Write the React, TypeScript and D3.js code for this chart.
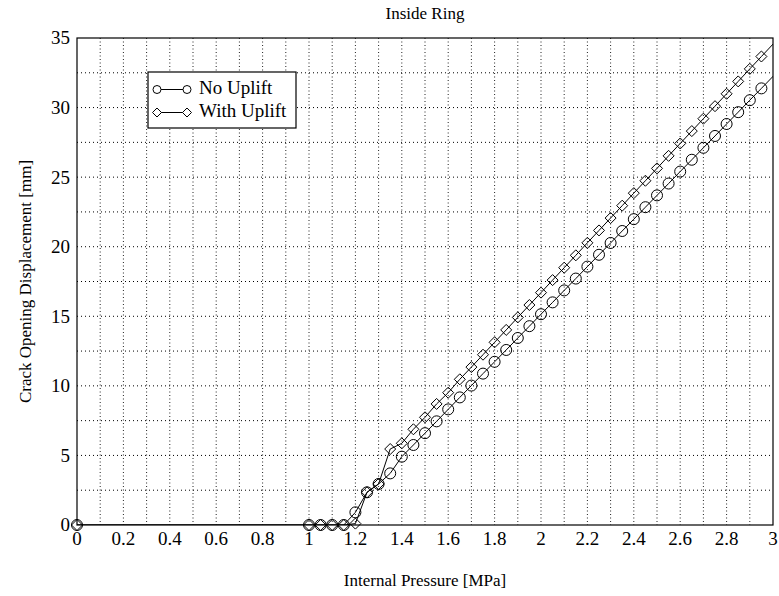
import React, { useEffect, useRef } from 'react';
import * as d3 from 'd3';

// internal pressure [MPa]; last point lies past the axis and is clipped
const pressure = [
  0,
  1.0, 1.05, 1.1, 1.15, 1.2, 1.25, 1.3, 1.35, 1.4, 1.45,
  1.5, 1.55, 1.6, 1.65, 1.7, 1.75, 1.8, 1.85, 1.9, 1.95,
  2.0, 2.05, 2.1, 2.15, 2.2, 2.25, 2.3, 2.35, 2.4, 2.45,
  2.5, 2.55, 2.6, 2.65, 2.7, 2.75, 2.8, 2.85, 2.9, 2.95,
  3.05,
];

// crack opening displacement [mm]
const codNoUplift = [
  0,
  0, 0, 0, 0, 0.91, 2.35, 2.95, 3.71, 4.91, 5.75,
  6.6, 7.45, 8.31, 9.17, 10.02, 10.88, 11.73, 12.58, 13.44, 14.29,
  15.15, 16.0, 16.86, 17.71, 18.57, 19.42, 20.27, 21.13, 21.98, 22.84,
  23.69, 24.54, 25.4, 26.25, 27.11, 27.96, 28.82, 29.67, 30.53, 31.38,
  33.1,
];

const codWithUplift = [
  0,
  0, 0, 0, 0, 0.1, 2.35, 2.95, 5.46, 5.87, 6.88,
  7.74, 8.7, 9.51, 10.47, 11.35, 12.24, 13.13, 14.02, 14.92, 15.81,
  16.7, 17.6, 18.49, 19.38, 20.28, 21.17, 22.06, 22.95, 23.85, 24.74,
  25.63, 26.53, 27.42, 28.31, 29.2, 30.1, 30.99, 31.88, 32.78, 33.67,
  35.45,
];

const seriesNames = ['No Uplift', 'With Uplift'];
const xTicks = [0, 0.2, 0.4, 0.6, 0.8, 1, 1.2, 1.4, 1.6, 1.8, 2, 2.2, 2.4, 2.6, 2.8, 3];
const yTicks = [0, 5, 10, 15, 20, 25, 30, 35];

const W = 779;
const H = 596;
const FONT = '"Liberation Serif", "Times New Roman", serif';

const App = () => {
  const svgRef = useRef<SVGSVGElement | null>(null);

  useEffect(() => {
    if (!svgRef.current) return;
    const root = d3.select(svgRef.current);
    root.selectAll('*').remove();

    const margin = { top: 38, right: 6, bottom: 71, left: 77 };
    const width = W - margin.left - margin.right;
    const height = H - margin.top - margin.bottom;

    const x = d3.scaleLinear().domain([0, 3]).range([0, width]);
    const y = d3.scaleLinear().domain([0, 35]).range([height, 0]);

    root.append('defs').append('clipPath').attr('id', 'plot-clip')
      .append('rect').attr('width', width).attr('height', height);

    const svg = root.append('g')
      .attr('transform', `translate(${margin.left},${margin.top})`);

    // grid
    const grid = svg.append('g');
    grid.selectAll('line.vx')
      .data(d3.range(1, 30).map(i => i / 10))
      .enter().append('line')
      .attr('x1', d => x(d)).attr('x2', d => x(d))
      .attr('y1', 0).attr('y2', height)
      .attr('stroke', '#222')
      .attr('stroke-width', 1)
      .attr('stroke-dasharray', '1,2.5');
    grid.selectAll('line.hy')
      .data(d3.range(1, 14).map(i => i * 2.5))
      .enter().append('line')
      .attr('x1', 0).attr('x2', width)
      .attr('y1', d => y(d)).attr('y2', d => y(d))
      .attr('stroke', '#000')
      .attr('stroke-width', 1)
      .attr('stroke-dasharray', '1,3');

    // frame
    svg.append('rect')
      .attr('width', width).attr('height', height)
      .attr('fill', 'none').attr('stroke', '#000').attr('stroke-width', 1.2);

    // tick labels
    svg.selectAll('text.xt')
      .data(xTicks)
      .enter().append('text')
      .attr('x', d => x(d))
      .attr('y', height + 20)
      .attr('text-anchor', 'middle')
      .style('font-family', FONT)
      .style('font-size', '19px')
      .text(d => String(d));

    svg.selectAll('text.yt')
      .data(yTicks)
      .enter().append('text')
      .attr('x', -7)
      .attr('y', d => y(d))
      .attr('dy', '0.34em')
      .attr('text-anchor', 'end')
      .style('font-family', FONT)
      .style('font-size', '19px')
      .text(d => String(d));

    const data = [codNoUplift, codWithUplift].map(vals =>
      pressure.map((p, i) => ({ p, v: vals[i] })));

    const line = d3.line<{ p: number; v: number }>()
      .x(d => x(d.p))
      .y(d => y(d.v));

    const plot = svg.append('g');
    const lines = plot.append('g').attr('clip-path', 'url(#plot-clip)');
    data.forEach(series => {
      lines.append('path')
        .datum(series)
        .attr('fill', 'none')
        .attr('stroke', '#000')
        .attr('stroke-width', 1)
        .attr('d', line);
    });

    const diamond = (r: number) => `M0,${-r}L${r},0L0,${r}L${-r},0Z`;

    // markers (only those inside the x range)
    plot.selectAll('circle.m')
      .data(data[0].filter(d => d.p <= 3))
      .enter().append('circle')
      .attr('cx', d => x(d.p))
      .attr('cy', d => y(d.v))
      .attr('r', 5.5)
      .attr('fill', 'none')
      .attr('stroke', '#000')
      .attr('stroke-width', 1);

    plot.selectAll('path.m')
      .data(data[1].filter(d => d.p <= 3))
      .enter().append('path')
      .attr('transform', d => `translate(${x(d.p)},${y(d.v)})`)
      .attr('d', diamond(5.5))
      .attr('fill', 'none')
      .attr('stroke', '#000')
      .attr('stroke-width', 1);

    // legend
    const legend = root.append('g');
    legend.append('rect')
      .attr('x', 148).attr('y', 72)
      .attr('width', 148).attr('height', 56)
      .attr('fill', '#fff').attr('stroke', '#000').attr('stroke-width', 1.2);

    seriesNames.forEach((name, i) => {
      const ly = 89.5 + i * 23;
      legend.append('line')
        .attr('x1', 157).attr('x2', 187)
        .attr('y1', ly).attr('y2', ly)
        .attr('stroke', '#000');
      [157, 187].forEach(mx => {
        if (i === 0) {
          legend.append('circle')
            .attr('cx', mx).attr('cy', ly).attr('r', 4)
            .attr('fill', '#fff').attr('stroke', '#000');
        } else {
          legend.append('path')
            .attr('transform', `translate(${mx},${ly})`)
            .attr('d', diamond(4.5))
            .attr('fill', '#fff').attr('stroke', '#000');
        }
      });
      legend.append('text')
        .attr('x', 199).attr('y', ly + 4.5)
        .style('font-family', FONT)
        .style('font-size', '19px')
        .text(name);
    });

    // title and axis labels
    root.append('text')
      .attr('x', margin.left + width / 2).attr('y', 19)
      .attr('text-anchor', 'middle')
      .style('font-family', FONT).style('font-size', '17px')
      .text('Inside Ring');

    root.append('text')
      .attr('x', margin.left + width / 2).attr('y', 586)
      .attr('text-anchor', 'middle')
      .style('font-family', FONT).style('font-size', '17px')
      .text('Internal Pressure [MPa]');

    root.append('text')
      .attr('transform', `translate(31,${margin.top + height / 2}) rotate(-90)`)
      .attr('text-anchor', 'middle')
      .style('font-family', FONT).style('font-size', '17px')
      .text('Crack Opening Displacement [mm]');
  }, []);

  return (
    <svg
      ref={svgRef}
      width={W}
      height={H}
      style={{ position: 'absolute', left: 0, top: 0, background: '#fff' }}
    />
  );
};

export default App;
